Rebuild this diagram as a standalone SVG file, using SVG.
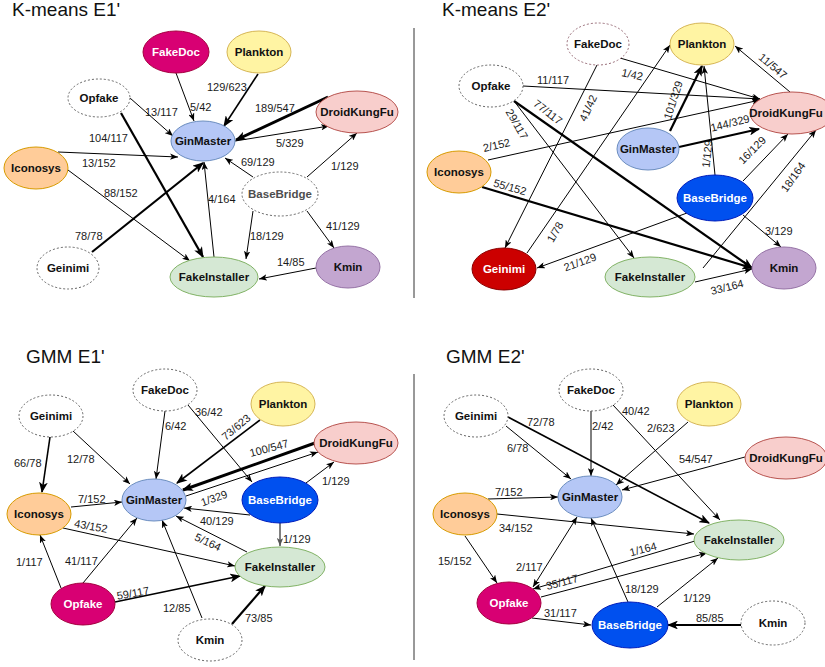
<svg xmlns="http://www.w3.org/2000/svg" width="825" height="667" viewBox="0 0 825 667">
<defs>
<marker id="a" viewBox="0 0 10 8" refX="10" refY="4" markerWidth="8" markerHeight="6.4" markerUnits="userSpaceOnUse" orient="auto"><path d="M0,0 L10,4 L0,8 L2.5,4 z" fill="#000"/></marker>
<marker id="as" viewBox="0 0 10 8" refX="10" refY="4" markerWidth="8" markerHeight="6.4" markerUnits="userSpaceOnUse" orient="auto-start-reverse"><path d="M0,0 L10,4 L0,8 L2.5,4 z" fill="#000"/></marker>
<marker id="ab" viewBox="0 0 10 8" refX="9" refY="4" markerWidth="11" markerHeight="8.8" markerUnits="userSpaceOnUse" orient="auto"><path d="M0,0 L10,4 L0,8 L2.5,4 z" fill="#000"/></marker>
<marker id="ag" viewBox="0 0 10 8" refX="10" refY="4" markerWidth="8" markerHeight="6.4" markerUnits="userSpaceOnUse" orient="auto"><path d="M0,0 L10,4 L0,8 L2.5,4 z" fill="#555"/></marker>
</defs>
<style>
.t{font-family:"Liberation Sans",Arial,sans-serif;font-size:19px;fill:#111}
.n{font-family:"Liberation Sans",Arial,sans-serif;font-size:11.5px;font-weight:bold;text-anchor:middle;fill:#111}
.w{fill:#fff}
.l{font-family:"Liberation Sans",Arial,sans-serif;font-size:11px;fill:#1a1a1a}
.lm{text-anchor:middle}
.e{fill:none;stroke:#000;stroke-width:1;marker-end:url(#a)}
.e15{stroke-width:1.6;marker-end:url(#ab)}
.e2{stroke-width:2.2;marker-end:url(#ab)}
.e3{stroke-width:3;marker-end:url(#ab)}
.d{fill:#fff;stroke:#666;stroke-dasharray:2 2}
.gm{fill:#b5c7f6;stroke:#6c8ebf}
.mg{fill:#d80073;stroke:#a50040}
.pl{fill:#fff4a3;stroke:#d6b656}
.dk{fill:#f8cecc;stroke:#b85450}
.ic{fill:#ffcc99;stroke:#d79b00}
.fi{fill:#d5e8d4;stroke:#82b366}
.km{fill:#c3a6d0;stroke:#9673a6}
.bb{fill:#0050ef;stroke:#001dbc}
.ge{fill:#cc0000;stroke:#8a0000}
.sep{stroke:#333;stroke-width:1}
</style>

<text class="t" x="12" y="16">K-means E1'</text>
<text class="t" x="442" y="16">K-means E2'</text>
<text class="t" x="26" y="363">GMM E1'</text>
<text class="t" x="446" y="363">GMM E2'</text>
<line class="sep" x1="414" y1="28" x2="414" y2="298"/>
<line class="sep" x1="414" y1="374" x2="414" y2="660"/>

<g id="connectors">
<!-- K-means E1' -->
<path class="e" d="M176,73 L194,121"/>
<path class="e e15" d="M258,74 L224,126"/>
<path class="e" d="M130,98 L173,136"/>
<path class="e e2" d="M121,113 L203,257"/>
<path class="e e3" d="M328,97 L236,140"/>
<path class="e" d="M235,141 L329,126"/>
<path class="e" d="M58,152 L178,157"/>
<path class="e" d="M68,170 L190,261"/>
<path class="e e2" d="M92,252 L203,163"/>
<path class="e" d="M253,177 L225,158" stroke-width="1.4"/>
<path class="e" d="M307,177 L357,133"/>
<path class="e" d="M253,211 L246,259"/>
<path class="e" d="M307,211 L334,248"/>
<path class="e" d="M316,268 L259,279"/>
<path class="e" d="M214,257 L204,162"/>
<!-- K-means E2' -->
<path class="e" d="M523,86 L760,99"/>
<path class="e" d="M620,58 L760,99"/>
<path class="e" d="M488,160 L760,100"/>
<path class="e e2" d="M514,101 L752,268"/>
<path class="e" d="M514,101 L634,258"/>
<path class="e" d="M597,65 L505,248"/>
<path class="e" d="M527,253 L670,45"/>
<path class="e e2" d="M670,131 L702,66"/>
<path class="e e2" d="M679,147 L759,129"/>
<path class="e" d="M715,175 L704,66"/>
<path class="e" d="M743,181 L788,134"/>
<path class="e" d="M703,268 L816,130"/>
<path class="e" d="M695,282 L752,269"/>
<path class="e e2" d="M482,187 L752,268"/>
<path class="e" d="M687,213 L537,268"/>
<path class="e" d="M790,92 L735,46"/>
<path class="e" d="M743,215 L781,247"/>
<!-- GMM E1' -->
<path class="e e15" d="M50,437 L42,492"/>
<path class="e" d="M73,431 L130,484"/>
<path class="e" d="M165,411 L156,479"/>
<path class="e" d="M188,405 L252,482"/>
<path class="e e15" d="M260,420 L177,483"/>
<path class="e e3" d="M315,443 L183,490"/>
<path class="e" d="M186,496 L318,452"/>
<path class="e" d="M306,483 L334,462"/>
<path class="e" d="M71,507 L122,502"/>
<path class="e" d="M250,515 L184,508"/>
<path class="e" d="M280,523 L280,546" stroke="#555" stroke-width="1.4" style="marker-end:url(#ag)"/>
<path class="e" d="M247,552 L176,516"/>
<path class="e" d="M63,528 L235,566"/>
<path class="e" d="M61,588 L40,535"/>
<path class="e" d="M83,583 L137,518"/>
<path class="e e15" d="M115,602 L240,576"/>
<path class="e" d="M202,618 L162,520"/>
<path class="e e2" d="M232,624 L265,586"/>
<!-- GMM E2' -->
<path class="e" d="M506,426 L571,479"/>
<path class="e e15" d="M508,417 L709,523"/>
<path class="e" d="M591,411 L591,476"/>
<path class="e" d="M613,405 L720,520"/>
<path class="e" d="M688,422 L616,485"/>
<path class="e" d="M745,457 L622,490"/>
<path class="e" d="M488,499 L558,497"/>
<path class="e" d="M497,514 L694,534"/>
<path class="e" d="M465,536 L497,583"/>
<path class="e" d="M533,587 L577,517" style="marker-start:url(#as)"/>
<path class="e" d="M695,541 L533,589"/>
<path class="e" d="M541,597 L707,553"/>
<path class="e" d="M532,618 L591,625"/>
<path class="e" d="M628,602 L591,518"/>
<path class="e" d="M657,607 L718,558"/>
<path class="e e2" d="M741,625 L668,625"/>
</g>

<g id="labels">
<text class="l" x="190" y="111">5/42</text>
<text class="l" x="207" y="91">129/623</text>
<text class="l" x="145" y="116">13/117</text>
<text class="l" x="89" y="142">104/117</text>
<text class="l" x="255" y="112">189/547</text>
<text class="l" x="276" y="147">5/329</text>
<text class="l" x="82" y="167">13/152</text>
<text class="l" x="104" y="197">88/152</text>
<text class="l" x="75" y="240">78/78</text>
<text class="l" x="241" y="166">69/129</text>
<text class="l" x="331" y="170">1/129</text>
<text class="l" x="250" y="240">18/129</text>
<text class="l" x="326" y="230">41/129</text>
<text class="l" x="277" y="266">14/85</text>
<text class="l" x="208" y="203">4/164</text>

<text class="l" x="537" y="84">11/117</text>
<text class="l" x="621" y="76" transform="rotate(12 621 76)">1/42</text>
<text class="l" x="484" y="152" transform="rotate(-13 484 152)">2/152</text>
<text class="l lm" x="548" y="116" transform="rotate(38 548 112)">77/117</text>
<text class="l lm" x="517" y="128" transform="rotate(60 517 124)">29/117</text>
<text class="l lm" x="588" y="112" transform="rotate(-65 588 108)">41/42</text>
<text class="l lm" x="555" y="236" transform="rotate(-60 555 232)">1/78</text>
<text class="l lm" x="673" y="104" transform="rotate(-72 673 100)">101/329</text>
<text class="l lm" x="730" y="127" transform="rotate(-14 730 123)">144/329</text>
<text class="l lm" x="707" y="158" transform="rotate(-84 707 154)">1/129</text>
<text class="l lm" x="752" y="154" transform="rotate(-45 752 150)">16/129</text>
<text class="l lm" x="793" y="181" transform="rotate(-55 793 177)">18/164</text>
<text class="l lm" x="727" y="291" transform="rotate(-14 727 287)">33/164</text>
<text class="l lm" x="510" y="191" transform="rotate(16 510 187)">55/152</text>
<text class="l lm" x="580" y="266" transform="rotate(-20 580 262)">21/129</text>
<text class="l lm" x="773" y="70" transform="rotate(40 773 66)">11/547</text>
<text class="l" x="765" y="235">3/129</text>

<text class="l" x="14" y="467">66/78</text>
<text class="l" x="67" y="463">12/78</text>
<text class="l" x="165" y="430">6/42</text>
<text class="l" x="195" y="416">36/42</text>
<text class="l lm" x="236" y="431" transform="rotate(-40 236 427)">73/623</text>
<text class="l lm" x="269" y="452" transform="rotate(-15 269 448)">100/547</text>
<text class="l lm" x="214" y="502" transform="rotate(-20 214 498)">1/329</text>
<text class="l" x="322" y="485">1/129</text>
<text class="l" x="78" y="503">7/152</text>
<text class="l" x="200" y="525">40/129</text>
<text class="l" x="283" y="543">1/129</text>
<text class="l lm" x="208" y="546" transform="rotate(25 208 542)">5/164</text>
<text class="l lm" x="91" y="530" transform="rotate(10 91 526)">43/152</text>
<text class="l" x="16" y="566">1/117</text>
<text class="l" x="65" y="565">41/117</text>
<text class="l lm" x="133" y="597" transform="rotate(-10 133 593)">59/117</text>
<text class="l" x="163" y="612">12/85</text>
<text class="l" x="245" y="622">73/85</text>

<text class="l" x="507" y="452">6/78</text>
<text class="l" x="527" y="426">72/78</text>
<text class="l" x="592" y="430">2/42</text>
<text class="l" x="622" y="415">40/42</text>
<text class="l" x="647" y="432">2/623</text>
<text class="l" x="679" y="463">54/547</text>
<text class="l" x="495" y="496">7/152</text>
<text class="l" x="499" y="532">34/152</text>
<text class="l" x="438" y="565">15/152</text>
<text class="l" x="516" y="571">2/117</text>
<text class="l lm" x="643" y="553" transform="rotate(-15 643 549)">1/164</text>
<text class="l lm" x="562" y="586" transform="rotate(-15 562 582)">35/117</text>
<text class="l" x="544" y="617">31/117</text>
<text class="l" x="625" y="593">18/129</text>
<text class="l" x="683" y="602">1/129</text>
<text class="l" x="696" y="622">85/85</text>
</g>

<!-- K-means E1' nodes -->
<g id="k1-fakedoc"><ellipse class="mg" cx="176" cy="52" rx="33" ry="21"/><text class="n w" x="176" y="56">FakeDoc</text></g>
<g id="k1-plankton"><ellipse class="pl" cx="259" cy="52" rx="32" ry="21"/><text class="n" x="259" y="56">Plankton</text></g>
<g id="k1-opfake"><ellipse class="d" cx="99" cy="98" rx="31" ry="19"/><text class="n" x="99" y="102">Opfake</text></g>
<g id="k1-ginmaster"><ellipse class="gm" cx="203" cy="141" rx="32" ry="20"/><text class="n" x="203" y="145">GinMaster</text></g>
<g id="k1-droidkungfu"><ellipse class="dk" cx="357" cy="112" rx="41" ry="21"/><text class="n" x="357" y="116">DroidKungFu</text></g>
<g id="k1-iconosys"><ellipse class="ic" cx="36" cy="168" rx="32" ry="21"/><text class="n" x="36" y="172">Iconosys</text></g>
<g id="k1-basebridge"><ellipse class="d" cx="280" cy="194" rx="38" ry="22"/><text class="n" x="280" y="198" style="fill:#4d4d4d">BaseBridge</text></g>
<g id="k1-geinimi"><ellipse class="d" cx="68" cy="268" rx="31" ry="21"/><text class="n" x="68" y="272">Geinimi</text></g>
<g id="k1-fakeinstaller"><ellipse class="fi" cx="214" cy="277" rx="44" ry="20"/><text class="n" x="214" y="281">FakeInstaller</text></g>
<g id="k1-kmin"><ellipse class="km" cx="348" cy="267" rx="32" ry="21"/><text class="n" x="348" y="271">Kmin</text></g>

<!-- K-means E2' nodes -->
<g id="k2-fakedoc"><ellipse class="d" cx="598" cy="44" rx="31" ry="21" style="stroke:#9a6f7a"/><text class="n" x="598" y="48">FakeDoc</text></g>
<g id="k2-opfake"><ellipse class="d" cx="491" cy="86" rx="32" ry="21"/><text class="n" x="491" y="90">Opfake</text></g>
<g id="k2-plankton"><ellipse class="pl" cx="702" cy="44" rx="32" ry="21"/><text class="n" x="702" y="48">Plankton</text></g>
<g id="k2-droidkungfu"><ellipse class="dk" cx="792" cy="113" rx="42" ry="21"/><text class="n" x="786" y="117">DroidKungFu</text></g>
<g id="k2-ginmaster"><ellipse class="gm" cx="648" cy="149" rx="31" ry="21"/><text class="n" x="648" y="153">GinMaster</text></g>
<g id="k2-iconosys"><ellipse class="ic" cx="459" cy="172" rx="32" ry="21"/><text class="n" x="459" y="176">Iconosys</text></g>
<g id="k2-basebridge"><ellipse class="bb" cx="715" cy="198" rx="38" ry="23"/><text class="n w" x="715" y="202">BaseBridge</text></g>
<g id="k2-geinimi"><ellipse class="ge" cx="504" cy="269" rx="32" ry="21"/><text class="n w" x="504" y="273">Geinimi</text></g>
<g id="k2-fakeinstaller"><ellipse class="fi" cx="650" cy="277" rx="45" ry="20"/><text class="n" x="650" y="281">FakeInstaller</text></g>
<g id="k2-kmin"><ellipse class="km" cx="784" cy="268" rx="32" ry="21"/><text class="n" x="784" y="272">Kmin</text></g>

<!-- GMM E1' nodes -->
<g id="g1-fakedoc"><ellipse class="d" cx="165" cy="390" rx="32" ry="21"/><text class="n" x="165" y="394">FakeDoc</text></g>
<g id="g1-geinimi"><ellipse class="d" cx="51" cy="416" rx="32" ry="21"/><text class="n" x="51" y="420">Geinimi</text></g>
<g id="g1-plankton"><ellipse class="pl" cx="283" cy="404" rx="32" ry="22"/><text class="n" x="283" y="408">Plankton</text></g>
<g id="g1-droidkungfu"><ellipse class="dk" cx="356" cy="443" rx="42" ry="21"/><text class="n" x="356" y="447">DroidKungFu</text></g>
<g id="g1-ginmaster"><ellipse class="gm" cx="154" cy="500" rx="32" ry="21"/><text class="n" x="154" y="504">GinMaster</text></g>
<g id="g1-basebridge"><ellipse class="bb" cx="280" cy="500" rx="38" ry="23"/><text class="n w" x="280" y="504">BaseBridge</text></g>
<g id="g1-iconosys"><ellipse class="ic" cx="39" cy="514" rx="32" ry="21"/><text class="n" x="39" y="518">Iconosys</text></g>
<g id="g1-fakeinstaller"><ellipse class="fi" cx="280" cy="567" rx="45" ry="20"/><text class="n" x="280" y="571">FakeInstaller</text></g>
<g id="g1-opfake"><ellipse class="mg" cx="83" cy="604" rx="32" ry="21"/><text class="n w" x="83" y="608">Opfake</text></g>
<g id="g1-kmin"><ellipse class="d" cx="210" cy="640" rx="32" ry="21"/><text class="n" x="210" y="644">Kmin</text></g>

<!-- GMM E2' nodes -->
<g id="g2-fakedoc"><ellipse class="d" cx="591" cy="390" rx="32" ry="21"/><text class="n" x="591" y="394">FakeDoc</text></g>
<g id="g2-geinimi"><ellipse class="d" cx="476" cy="416" rx="32" ry="21"/><text class="n" x="476" y="420">Geinimi</text></g>
<g id="g2-plankton"><ellipse class="pl" cx="709" cy="404" rx="32" ry="22"/><text class="n" x="709" y="408">Plankton</text></g>
<g id="g2-droidkungfu"><ellipse class="dk" cx="786" cy="458" rx="41" ry="21"/><text class="n" x="786" y="462">DroidKungFu</text></g>
<g id="g2-ginmaster"><ellipse class="gm" cx="590" cy="497" rx="32" ry="21"/><text class="n" x="590" y="501">GinMaster</text></g>
<g id="g2-iconosys"><ellipse class="ic" cx="465" cy="514" rx="32" ry="21"/><text class="n" x="465" y="518">Iconosys</text></g>
<g id="g2-fakeinstaller"><ellipse class="fi" cx="739" cy="540" rx="45" ry="20"/><text class="n" x="739" y="544">FakeInstaller</text></g>
<g id="g2-opfake"><ellipse class="mg" cx="509" cy="603" rx="32" ry="21"/><text class="n w" x="509" y="607">Opfake</text></g>
<g id="g2-basebridge"><ellipse class="bb" cx="630" cy="625" rx="38" ry="23"/><text class="n w" x="630" y="629">BaseBridge</text></g>
<g id="g2-kmin"><ellipse class="d" cx="773" cy="623" rx="32" ry="22"/><text class="n" x="773" y="627">Kmin</text></g>
</svg>
